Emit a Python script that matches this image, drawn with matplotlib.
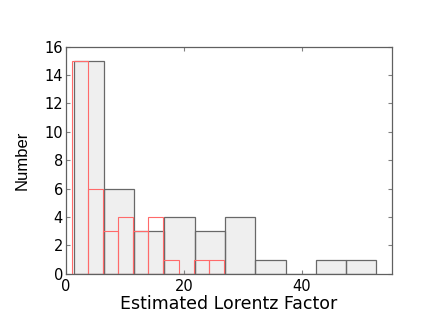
import numpy as np
import matplotlib
matplotlib.use('Agg')
import matplotlib.pyplot as plt

# wide bins (grey)
gray_edges = [1.3, 6.43, 11.56, 16.69, 21.82, 26.95, 32.08, 37.21, 42.34, 47.47, 52.6]
gray_counts = [15, 6, 3, 4, 3, 4, 1, 0, 1, 1]

# narrow bins (red outline)
red_edges = [1.1, 3.67, 6.24, 8.81, 11.38, 13.95, 16.52, 19.09, 21.66, 24.23, 26.8]
red_counts = [15, 6, 3, 4, 3, 4, 1, 0, 1, 1]

plt.rcParams['font.family'] = ['DejaVu Sans']

fig = plt.figure(figsize=(4.36, 3.27), dpi=100)
ax = fig.add_axes([0.151, 0.163, 0.749, 0.694])

ax.stairs(gray_counts, gray_edges, fill=True, facecolor='#efefef', edgecolor='none')
for i in range(len(gray_counts)):
    ax.bar(gray_edges[i], gray_counts[i], width=gray_edges[i + 1] - gray_edges[i],
           align='edge', facecolor='none', edgecolor='#686868', linewidth=0.9)
for i in range(len(red_counts)):
    ax.bar(red_edges[i], red_counts[i], width=red_edges[i + 1] - red_edges[i],
           align='edge', facecolor='none', edgecolor='#ff6a6a', linewidth=0.8)

ax.set_xlim(0, 55.3)
ax.set_ylim(0, 16)
ax.set_xticks([0, 20, 40])
ax.set_yticks(np.arange(0, 17, 2))
ax.tick_params(direction='in', top=True, right=True, labelsize=10.5, length=3,
               color='#808080')
ax.tick_params(axis='x', pad=3.5)
ax.tick_params(axis='y', pad=2)
for s in ax.spines.values():
    s.set_color('#606060')
    s.set_linewidth(0.9)

ax.set_xlabel('Estimated Lorentz Factor', fontsize=12.5, labelpad=0.8)
ax.set_ylabel('Number', fontsize=12, labelpad=11,
              family=['Liberation Sans Narrow', 'Liberation Sans'])

fig.savefig('out.png', dpi=100)
